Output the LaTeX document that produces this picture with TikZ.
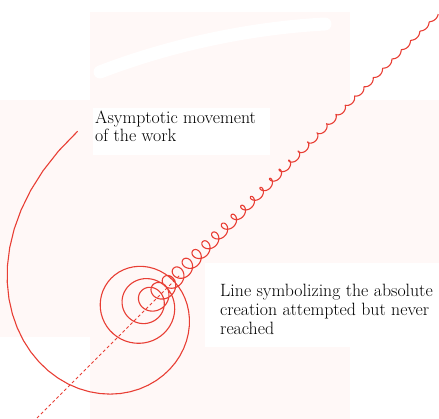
\documentclass[tikz,border=0pt]{standalone}
\definecolor{spiral}{RGB}{232,62,52}
\definecolor{paper}{RGB}{255,248,247}
\begin{document}
\begin{tikzpicture}[x=1pt,y=-1pt,
  spiralline/.style={draw=spiral, line width=1.1pt, line join=round},
  axisline/.style={draw=spiral, line width=1pt, dash pattern=on 3pt off 2.5pt},
  textlabel/.style={inner sep=0pt, anchor=north west, align=left, text=black},
  declare function={
    sprR(\t)=max(55*exp(-1.1*ln(\t+0.02)),8.2*exp(-(\t-6)/12))+8*exp(-min(((\t-1.9)^2)/0.25,15));
    sprX(\t)=119.8+9.3*\t+6*exp(-min((\t-1.2)^2,15));
    sprY(\t)=455-sprX(\t)-2-6*exp(-min(((\t-1.6)^2)/1.2,15));
  }]
\useasboundingbox (0,0) rectangle (439,419);
\fill[paper] (90,12) rectangle (350,419);
\fill[paper] (0,100) rectangle (439,337);
\draw[white, line width=13pt, line cap=round] (100,72) .. controls (170,45) and (250,28) .. (325,24);
\fill[white] (93,108) rectangle (270,155);
\fill[white] (205,263) rectangle (439,347);
\coordinate (dashstart) at (37,418);
\coordinate (dashend) at (180,275);
\draw[axisline] (dashstart) -- (dashend);
\draw[spiralline] plot[domain=0.288:34.2, samples=1700, variable=\t]
  ({sprX(\t)+sprR(\t)*cos(360*\t)}, {sprY(\t)-sprR(\t)*sin(360*\t)});
\node[textlabel, font=\fontsize{17.8}{18}\selectfont] (work) at (95,110.3) {Asymptotic movement\\of the work};
\node[textlabel, font=\fontsize{17.8}{19}\selectfont] (absolute) at (220,284.3) {Line symbolizing the absolute\\creation attempted but never\\reached};
\end{tikzpicture}
\end{document}
